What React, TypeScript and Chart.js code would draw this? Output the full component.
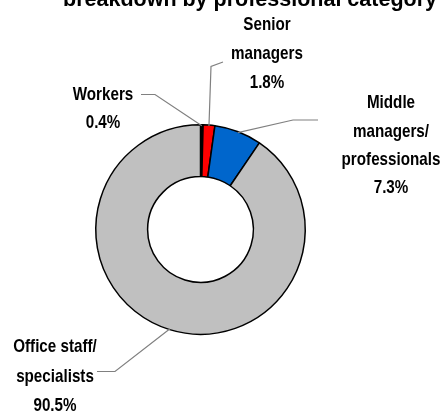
import React, { useEffect, useRef } from "react";
import { Chart, registerables } from "chart.js";

Chart.register(...registerables);

const titleText = "breakdown by professional category";
const categories: string[][] = [
  ["Workers"],
  ["Senior", "managers"],
  ["Middle", "managers/", "professionals"],
  ["Office staff/", "specialists"],
];
const shares: number[] = [0.4, 1.8, 7.3, 90.5];
const sliceColors: string[] = ["#000000", "#FF0000", "#0066CC", "#C0C0C0"];

// label placement (text block center x, first line center y, line step) and leader path points
const labelLayout = [
  { x: 103, y: 95, step: 28, path: [[141, 94.5], [155, 94.5]] },
  { x: 267, y: 25, step: 29, path: [[223, 62], [211, 66.5]] },
  { x: 391, y: 103, step: 28.4, path: [[318, 120], [293, 120]] },
  { x: 55, y: 347, step: 29.5, path: [[97, 371.5], [115, 371.5]] },
];

const labelFont = "bold 19px 'Liberation Sans', Arial, sans-serif";
const labelSquash = 0.8;
const titleFont = "bold 21.5px 'Liberation Sans', Arial, sans-serif";

const labelsPlugin = {
  id: "pieLabels",
  afterDraw(chart: any) {
    const ctx = chart.ctx;
    const meta = chart.getDatasetMeta(0);
    ctx.save();
    // title
    ctx.font = titleFont;
    ctx.fillStyle = "#000";
    ctx.textAlign = "center";
    ctx.textBaseline = "alphabetic";
    ctx.fillText(titleText, 250, 5.5);

    meta.data.forEach((arc: any, i: number) => {
      const lay = labelLayout[i];
      const p = arc.getProps(["x", "y", "startAngle", "endAngle", "outerRadius"], true);
      const mid = (p.startAngle + p.endAngle) / 2;
      const ex = p.x + Math.cos(mid) * (p.outerRadius - 1);
      const ey = p.y + Math.sin(mid) * (p.outerRadius - 1);
      ctx.strokeStyle = "#808080";
      ctx.lineWidth = 1.2;
      ctx.beginPath();
      ctx.moveTo(lay.path[0][0], lay.path[0][1]);
      for (let k = 1; k < lay.path.length; k++) ctx.lineTo(lay.path[k][0], lay.path[k][1]);
      ctx.lineTo(ex, ey);
      ctx.stroke();

      const lines = [...categories[i], shares[i].toFixed(1) + "%"];
      ctx.font = labelFont;
      ctx.fillStyle = "#000";
      ctx.textAlign = "center";
      ctx.textBaseline = "middle";
      lines.forEach((t, j) => {
        ctx.save();
        ctx.translate(lay.x, lay.y + j * lay.step);
        ctx.scale(labelSquash, 1);
        ctx.fillText(t, 0, 0);
        ctx.restore();
      });
    });
    ctx.restore();
  },
};

export default function App() {
  const ref = useRef<HTMLCanvasElement>(null);
  useEffect(() => {
    document.body.style.margin = "0";
    const chart = new Chart(ref.current!, {
      type: "doughnut",
      data: {
        labels: categories.map((c) => c.join(" ")),
        datasets: [
          {
            data: shares,
            backgroundColor: sliceColors,
            borderColor: "#000000",
            borderWidth: 1.5,
          },
        ],
      },
      options: {
        responsive: false,
        animation: false,
        devicePixelRatio: 1,
        cutout: "50.5%",
        layout: { padding: { left: 95, top: 124, right: 138, bottom: 77 } },
        plugins: { legend: { display: false }, tooltip: { enabled: false }, title: { display: false } },
      },
      plugins: [labelsPlugin],
    });
    return () => chart.destroy();
  }, []);
  return (
    <div style={{ width: 444, height: 412, background: "#fff" }}>
      <canvas ref={ref} width={444} height={412} />
    </div>
  );
}
